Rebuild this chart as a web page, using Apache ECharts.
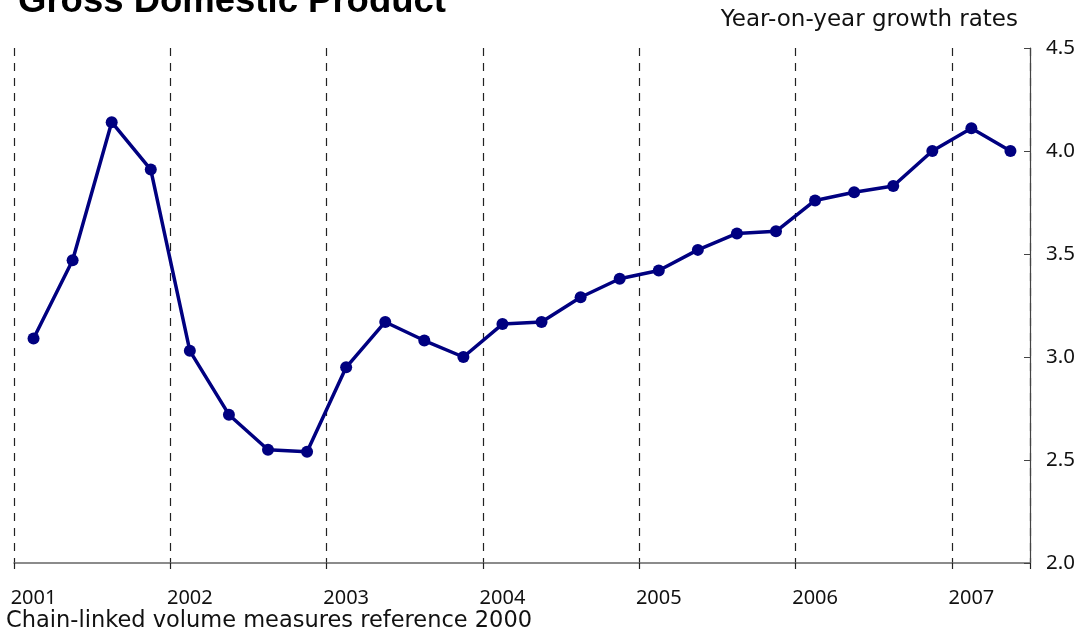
<!DOCTYPE html>
<html>
<head>
<meta charset="utf-8">
<script src="https://cdn.jsdelivr.net/npm/echarts@6/dist/echarts.min.js"></script>
<style>
html,body{margin:0;padding:0;background:#fff;}
#chart{width:1081px;height:634px;}
</style>
</head>
<body>
<div id="chart"></div>
<script>
const quarters = [
  '2001Q1','2001Q2','2001Q3','2001Q4',
  '2002Q1','2002Q2','2002Q3','2002Q4',
  '2003Q1','2003Q2','2003Q3','2003Q4',
  '2004Q1','2004Q2','2004Q3','2004Q4',
  '2005Q1','2005Q2','2005Q3','2005Q4',
  '2006Q1','2006Q2','2006Q3','2006Q4',
  '2007Q1','2007Q2'
];
const gdpGrowth = [
  3.09, 3.47, 4.14, 3.91,
  3.03, 2.72, 2.55, 2.54,
  2.95, 3.17, 3.08, 3.00,
  3.16, 3.17, 3.29, 3.38,
  3.42, 3.52, 3.60, 3.61,
  3.76, 3.80, 3.83, 4.00,
  4.11, 4.00
];
const yMin = 2.0, yMax = 4.5, yStep = 0.5;
const titleText = 'Gross Domestic Product';
const unitText = 'Year-on-year growth rates';
const noteText = 'Chain-linked volume measures reference 2000';

const font = 'Noto Sans';
const chart = echarts.init(document.getElementById('chart'), null, {renderer: 'canvas'});
chart.setOption({
  animation: false,
  backgroundColor: '#fff',
  grid: {left: 14, right: 51, top: 48, bottom: 71, containLabel: false},
  graphic: [
    {type: 'text', left: 18, top: -17, style: {text: titleText, font: 'bold 36.5px "Liberation Sans", Arial', fill: '#000'}},
    {type: 'text', right: 63, top: 9, style: {text: unitText, font: '23px "DejaVu Sans"', fill: '#111'}},
    {type: 'text', left: 6, top: 610, style: {text: noteText, font: '22.5px "DejaVu Sans"', fill: '#111'}}
  ],
  xAxis: {
    type: 'category',
    data: quarters,
    boundaryGap: true,
    axisLine: {show: true, lineStyle: {color: '#666', width: 1.5}},
    axisTick: {show: true, interval: 3, length: 6, lineStyle: {color: '#222', width: 1.2}},
    axisLabel: {interval: 3, formatter: v => v.slice(0, 4), margin: 25, fontSize: 20, fontFamily: font, color: '#111'},
    splitLine: {show: true, interval: 3, lineStyle: {type: [8, 7], color: '#222', width: 1.2}}
  },
  yAxis: {
    type: 'value',
    position: 'right',
    min: yMin, max: yMax, interval: yStep,
    axisLine: {show: true, lineStyle: {color: '#444', width: 1.2}},
    axisTick: {show: true, inside: true, length: 6, lineStyle: {color: '#444'}},
    axisLabel: {formatter: v => v.toFixed(1), margin: 16, fontSize: 20.5, fontFamily: font, color: '#111', padding: [6, 0, 0, 0]},
    splitLine: {show: false}
  },
  series: [{
    type: 'line',
    data: gdpGrowth,
    color: '#000080',
    lineStyle: {width: 3.5, color: '#000080'},
    symbol: 'circle',
    symbolSize: 12,
    itemStyle: {color: '#000080'}
  }]
});
</script>
</body>
</html>
